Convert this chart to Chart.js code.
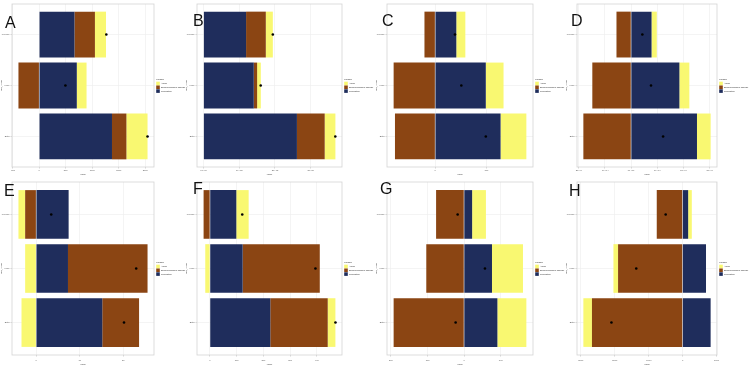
<!DOCTYPE html>
<html>
<head>
<meta charset="utf-8">
<script src="https://cdn.jsdelivr.net/npm/chart.js@4/dist/chart.umd.min.js"></script>
<style>
  html, body { margin: 0; padding: 0; background: #fff; }
  #wrap { position: relative; width: 750px; height: 367px; overflow: hidden; font-family: "Liberation Sans", Arial, sans-serif; }
  #wrap canvas { position: absolute; }
  .tag { position: absolute; font-size: 16px; line-height: 16px; color: #111; }
</style>
</head>
<body>
<div id="wrap"></div>
<script>
const categories = ['Female', 'Male', 'Both'];
const seriesNames = ['Population', 'Epidemiological change', 'Aging'];

/* ===== Panel data ===== */

const popA = [665, 709, 1373];
const epiA = [386, -392, 272];
const agingA = [209, 184, 399];
const totalA = [1266, 494, 2044];
const ticksA = [-500, 0, 500, 1000, 1500, 2000];
const tickLabelsA = ['-500', '0', '500', '1000', '1500', '2000'];

const popB = [119000, 140600, 261500];
const epiB = [55300, 9400, 77800];
const agingB = [19700, 10300, 30000];
const totalB = [194000, 160000, 369000];
const ticksB = [0, 100000, 200000, 300000];
const tickLabelsB = ['0e+00', '1e+05', '2e+05', '3e+05'];

const popC = [41.2, 98.7, 127.5];
const epiC = [-20.9, -81, -78.4];
const agingC = [17.6, 34.6, 50.3];
const totalC = [38.6, 51, 98.7];
const ticksC = [0, 100];
const tickLabelsC = ['0', '100'];

const popD = [7800, 18400, 25100];
const epiD = [-5550, -14750, -18160];
const agingD = [2000, 3800, 5200];
const totalD = [4300, 7600, 12200];
const ticksD = [-20000, -10000, 0, 10000, 20000, 30000];
const tickLabelsD = ['-2e+04', '-1e+04', '0e+00', '1e+04', '2e+04', '3e+04'];

const popE = [7.46, 7.31, 15.2];
const epiE = [-2.54, 18.3, 8.46];
const agingE = [-1.54, -2.54, -3.38];
const totalE = [3.46, 23.0, 20.2];
const ticksE = [0, 10, 20];
const tickLabelsE = ['0', '10', '20'];

const popF = [98.75, 122.5, 226];
const epiF = [-23.75, 288.75, 215];
const agingF = [46.25, -17.5, 28.75];
const totalF = [121, 395, 470];
const ticksF = [0, 100, 200, 300, 400];
const tickLabelsF = ['0', '100', '200', '300', '400'];

const popG = [22, 76.1, 90.8];
const epiG = [-76.1, -102.8, -191.7];
const agingG = [37.6, 84.4, 78.9];
const totalG = [-17.4, 56.9, -22.9];
const ticksG = [-200, -100, 0, 100];
const tickLabelsG = ['-200', '-100', '0', '100'];

const popH = [165, 689, 825];
const epiH = [-757, -1893, -2660];
const agingH = [107, -136, -252];
const totalH = [-495, -1359, -2087];
const ticksH = [-3000, -2000, -1000, 0, 1000];
const tickLabelsH = ['-3000', '-2000', '-1000', '0', '1000'];

const colors = ['#1F2D5C', '#8B4513', '#F9F871'];

/* ===== Layout ===== */

const rows = [
  { top: 0, h: 178, padTop: 2, padBottom: 2.5, axisH: 8.5, tickPad: 0.5 },
  { top: 178, h: 189, padTop: 1, padBottom: 1.5, axisH: 10.5, tickPad: 2 }
];

const panels = [
  { tag: 'A', row: 0, x: 0, w: 187, tx: 5, ty: 15, s: [popA, epiA, agingA], tot: totalA, tv: ticksA, tl: tickLabelsA },
  { tag: 'B', row: 0, x: 185, w: 190, tx: 193, ty: 13, s: [popB, epiB, agingB], tot: totalB, tv: ticksB, tl: tickLabelsB },
  { tag: 'C', row: 0, x: 375, w: 191, tx: 382, ty: 13, s: [popC, epiC, agingC], tot: totalC, tv: ticksC, tl: tickLabelsC },
  { tag: 'D', row: 0, x: 565, w: 185, tx: 571, ty: 13, s: [popD, epiD, agingD], tot: totalD, tv: ticksD, tl: tickLabelsD },
  { tag: 'E', row: 1, x: 0, w: 187, tx: 4, ty: 183, s: [popE, epiE, agingE], tot: totalE, tv: ticksE, tl: tickLabelsE },
  { tag: 'F', row: 1, x: 185, w: 190, tx: 193, ty: 181, s: [popF, epiF, agingF], tot: totalF, tv: ticksF, tl: tickLabelsF },
  { tag: 'G', row: 1, x: 375, w: 191, tx: 380, ty: 181, s: [popG, epiG, agingG], tot: totalG, tv: ticksG, tl: tickLabelsG },
  { tag: 'H', row: 1, x: 565, w: 185, tx: 569, ty: 183, s: [popH, epiH, agingH], tot: totalH, tv: ticksH, tl: tickLabelsH }
];

const tiny = { family: 'Liberation Sans', size: 2.3 };
const Y_MIN = -0.6, Y_MAX = 2.6; // ggplot discrete expansion

// panel border like ggplot
const panelBorder = {
  id: 'panelBorder',
  afterDatasetsDraw(chart) {
    const { ctx, chartArea: a } = chart;
    ctx.save();
    ctx.strokeStyle = '#d4d4d4';
    ctx.lineWidth = 0.8;
    ctx.strokeRect(a.left, a.top, a.right - a.left, a.bottom - a.top);
    ctx.restore();
  }
};

// x range = stacked extent + 5%
function limits(series) {
  let lo = 0, hi = 0;
  categories.forEach((c, i) => {
    let neg = 0, pos = 0;
    series.forEach(s => { if (s[i] < 0) neg += s[i]; else pos += s[i]; });
    lo = Math.min(lo, neg);
    hi = Math.max(hi, pos);
  });
  const pad = (hi - lo) * 0.05;
  return [lo - pad, hi + pad];
}

const wrap = document.getElementById('wrap');

function makePanel(p) {
  const row = rows[p.row];
  const cv = document.createElement('canvas');
  cv.width = p.w;
  cv.height = row.h;
  cv.style.left = p.x + 'px';
  cv.style.top = row.top + 'px';
  wrap.appendChild(cv);

  const tag = document.createElement('div');
  tag.className = 'tag';
  tag.textContent = p.tag;
  tag.style.left = p.tx + 'px';
  tag.style.top = p.ty + 'px';
  wrap.appendChild(tag);

  const [xmin, xmax] = limits(p.s);

  const datasets = p.s.map((vals, k) => ({
    label: seriesNames[k],
    data: vals.map((v, i) => ({ x: v, y: i })),
    backgroundColor: colors[k],
    borderColor: colors[k],
    borderWidth: 0,
    categoryPercentage: 1,
    barPercentage: 0.9
  }));
  datasets.push({
    type: 'scatter',
    label: 'total',
    data: p.tot.map((v, i) => ({ x: v, y: i })),
    backgroundColor: '#000',
    borderColor: '#000',
    pointRadius: 1.3,
    pointBorderWidth: 0,
    order: -1
  });

  new Chart(cv, {
    type: 'bar',
    data: { datasets: datasets },
    options: {
      indexAxis: 'y',
      responsive: false,
      animation: false,
      events: [],
      layout: { padding: { top: row.padTop, bottom: row.padBottom, left: 0, right: 0 } },
      scales: {
        x: {
          type: 'linear',
          stacked: true,
          bounds: 'data',
          min: xmin,
          max: xmax,
          afterBuildTicks: s => {
            s.ticks = p.tv.map(v => ({ value: v }));
            s.min = xmin; s.max = xmax;
          },
          afterFit: s => { s.height = row.axisH; },
          ticks: {
            autoSkip: false, maxRotation: 0, padding: row.tickPad,
            font: tiny, color: '#555',
            callback: (v, i) => p.tl[i]
          },
          grid: { color: '#ececec', lineWidth: 0.6, tickLength: 1.5, tickColor: '#bbb' },
          border: { display: false },
          title: { display: true, text: 'value', font: tiny, color: '#333', padding: 0 }
        },
        y: {
          type: 'linear',
          stacked: true,
          reverse: true,
          offset: false,
          bounds: 'data',
          min: Y_MIN,
          max: Y_MAX,
          afterBuildTicks: s => {
            s.ticks = categories.map((c, i) => ({ value: i }));
            s.min = Y_MIN; s.max = Y_MAX;
          },
          afterFit: s => { s.width = 12; },
          ticks: {
            autoSkip: false, padding: 1, font: tiny, color: '#555',
            callback: (v, i) => categories[i]
          },
          grid: { offset: false, color: '#ececec', lineWidth: 0.6, tickLength: 1.5, tickColor: '#bbb' },
          border: { display: false },
          title: { display: true, text: 'sex_name', font: tiny, color: '#333', padding: 0 }
        },
        gap: {
          axis: 'y',
          type: 'linear',
          position: 'right',
          display: true,
          grid: { display: false },
          border: { display: false },
          ticks: { display: false },
          afterFit: s => { s.width = 2; }
        }
      },
      plugins: {
        tooltip: { enabled: false },
        legend: {
          position: 'right',
          align: 'center',
          fullSize: false,
          maxWidth: 31,
          title: { display: true, text: 'variable', position: 'start', color: '#333', font: tiny, padding: { top: 0, bottom: 0.8 } },
          labels: {
            boxWidth: 3.6, boxHeight: 3.6, padding: 0.2,
            font: tiny, color: '#333',
            filter: it => it.datasetIndex < 3,
            sort: (a, b) => b.datasetIndex - a.datasetIndex
          }
        }
      }
    },
    plugins: [panelBorder]
  });
}

panels.forEach(makePanel);
</script>
</body>
</html>
